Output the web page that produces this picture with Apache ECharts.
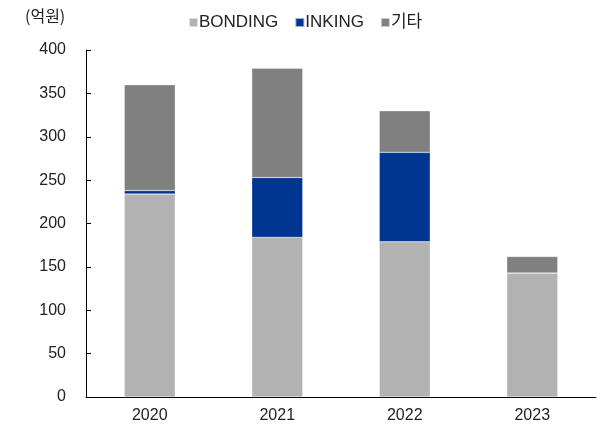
<!DOCTYPE html>
<html>
<head>
<meta charset="utf-8">
<script src="https://cdn.jsdelivr.net/npm/echarts@6/dist/echarts.min.js"></script>
<style>html,body{margin:0;padding:0;background:#fff}#c{width:603px;height:430px}</style>
</head>
<body>
<div id="c"></div>
<script>
const categories = ['2020', '2021', '2022', '2023'];
const bonding = [234, 184, 179, 143];
const inking = [4, 69, 103, 0];
const others = [122, 126, 48, 19];
const yTicks = [0, 50, 100, 150, 200, 250, 300, 350, 400];

const font = '"Liberation Sans", Arial, "Noto Sans CJK KR", sans-serif';
const chart = echarts.init(document.getElementById('c'), null, {renderer: 'canvas'});
const barStyle = c => ({color: c, borderColor: 'rgba(255,255,255,0.6)', borderWidth: 0.5});
chart.setOption({
  animation: false,
  textStyle: {fontFamily: font},
  graphic: [{type: 'text', left: 25, top: 8, style: {text: '(억원)', fontSize: 16, fill: '#222', fontFamily: '"Noto Sans CJK KR", sans-serif'}}],
  legend: {
    top: 9, left: 183,
    itemWidth: 9, itemHeight: 9, itemGap: 16,
    icon: 'rect',
    textStyle: {fontSize: 17, color: '#222', fontFamily: font, padding: [0, 0, 0, -4]},
    data: ['BONDING', 'INKING', '기타']
  },
  grid: {left: 86, right: 7, top: 50, bottom: 33, containLabel: false},
  xAxis: {
    type: 'category', data: categories,
    axisLine: {lineStyle: {color: '#000', width: 1}},
    axisTick: {inside: true, length: 5, lineStyle: {color: '#000'}},
    axisLabel: {fontSize: 16, color: '#222', margin: 11}
  },
  yAxis: {
    type: 'value', min: yTicks[0], max: yTicks[yTicks.length - 1], interval: 50,
    axisLine: {show: true, lineStyle: {color: '#000', width: 1}},
    axisTick: {show: true, inside: true, length: 5, lineStyle: {color: '#000'}},
    axisLabel: {fontSize: 16, color: '#222', margin: 20},
    splitLine: {show: false}
  },
  series: [
    {name: 'BONDING', type: 'bar', stack: 's', data: bonding, barWidth: '40%', itemStyle: barStyle('#b2b2b2')},
    {name: 'INKING', type: 'bar', stack: 's', data: inking, barWidth: '40%', itemStyle: barStyle('#003591')},
    {name: '기타', type: 'bar', stack: 's', data: others, barWidth: '40%', itemStyle: barStyle('#808080')}
  ]
});
</script>
</body>
</html>
